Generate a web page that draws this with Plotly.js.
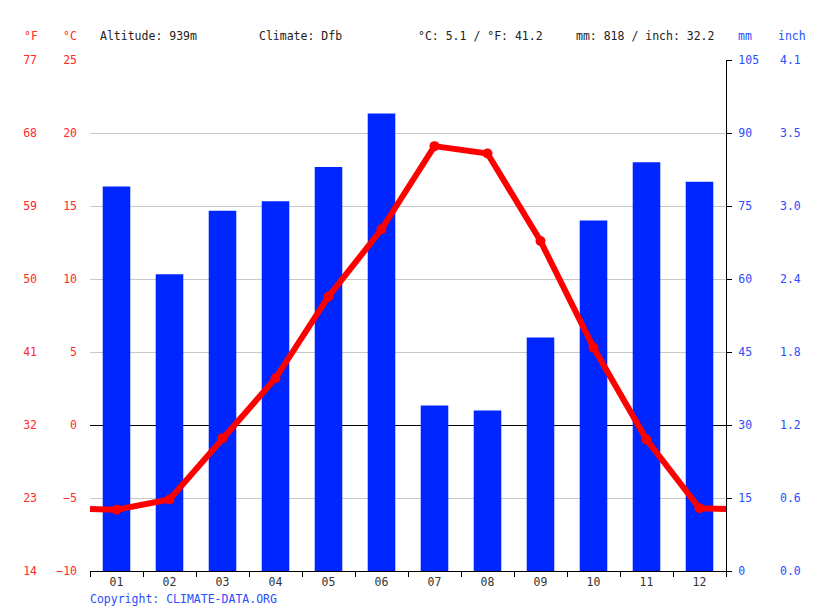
<!DOCTYPE html>
<html>
<head>
<meta charset="utf-8">
<script src="https://cdn.plot.ly/plotly-3.0.1.min.js"></script>
<style>
  html, body { margin: 0; padding: 0; background: #fff; }
  #chart { width: 815px; height: 611px; }
</style>
</head>
<body>
<div id="chart"></div>
<script>
// monthly climate values
var months = ['01', '02', '03', '04', '05', '06', '07', '08', '09', '10', '11', '12'];
var precipMm = [79, 61, 74, 76, 83, 94, 34, 33, 48, 72, 84, 80];
var tempC = [-5.8, -5.1, -0.9, 3.2, 8.8, 13.4, 19.1, 18.6, 12.6, 5.3, -1.0, -5.7];

var cTicks = [-10, -5, 0, 5, 10, 15, 20, 25];
var fTicks = [14, 23, 32, 41, 50, 59, 68, 77];
var mmTicks = [0, 15, 30, 45, 60, 75, 90, 105];

var W = 815;
var plotLeft = 90, plotRight = 726;
var font = 'DejaVu Sans Mono, monospace';
var red = '#ff2a2a';
var blue = '#2a4dff';

var xs = months.map(function(m, i) { return i + 1; });

// the temperature line runs on to both edges of the plot
var edgeTemp = (tempC[0] + tempC[11]) / 2;
var lineX = [0.5].concat(xs, [12.5]);
var lineY = [edgeTemp].concat(tempC, [edgeTemp]);

var inchText = mmTicks.map(function(v) { return (v / 25.4).toFixed(1); });

var plotlyData = [
    {
        x: xs,
        y: precipMm,
        type: 'bar',
        width: 0.52,
        marker: {color: '#0026ff'},
        yaxis: 'y',
        hoverinfo: 'skip'
    },
    {
        x: lineX,
        y: lineY,
        type: 'scatter',
        mode: 'lines',
        line: {color: '#ff0000', width: 6},
        yaxis: 'y2',
        hoverinfo: 'skip'
    },
    {
        x: xs,
        y: tempC,
        type: 'scatter',
        mode: 'markers',
        marker: {color: '#ff0000', size: 10},
        yaxis: 'y2',
        hoverinfo: 'skip'
    },
    // empty traces so the °F and inch axes get drawn
    {x: [], y: [], type: 'scatter', mode: 'markers', yaxis: 'y3', hoverinfo: 'skip'},
    {x: [], y: [], type: 'scatter', mode: 'markers', yaxis: 'y4', hoverinfo: 'skip'}
];

var plotlyLayout = {
    width: 815,
    height: 611,
    margin: {l: 0, r: 0, t: 60, b: 40},
    showlegend: false,
    paper_bgcolor: '#fff',
    plot_bgcolor: '#fff',
    font: {family: font, size: 11.5, color: '#222'},
    xaxis: {
        domain: [plotLeft / W, plotRight / W],
        range: [0.5, 12.5],
        tickvals: xs,
        ticktext: months,
        ticks: '',
        showgrid: false,
        zeroline: false,
        showline: true,
        linecolor: '#000',
        linewidth: 1,
        tickfont: {color: '#333', size: 11.5},
        minor: {tick0: 0.5, dtick: 1, ticks: 'outside', ticklen: 5, tickcolor: '#000', showgrid: false}
    },
    // mm (main axis, bars)
    yaxis: {
        range: [0, 105],
        tickvals: mmTicks,
        side: 'right',
        showgrid: false,
        zeroline: false,
        showline: true,
        linecolor: '#000',
        ticks: 'outside',
        ticklen: 5,
        tickcolor: '#000',
        tickfont: {color: blue},
        ticklabelstandoff: 4
    },
    // °C (line)
    yaxis2: {
        overlaying: 'y',
        side: 'left',
        range: [-10, 25],
        tickvals: cTicks,
        showgrid: true,
        gridcolor: '#c8c8c8',
        zeroline: true,
        zerolinecolor: '#000',
        zerolinewidth: 1,
        showline: false,
        ticks: '',
        tickfont: {color: red},
        ticklabelstandoff: 12
    },
    // °F
    yaxis3: {
        overlaying: 'y',
        anchor: 'free',
        position: 38 / W,
        side: 'left',
        range: [14, 77],
        tickvals: fTicks,
        showgrid: false,
        zeroline: false,
        showline: false,
        ticks: '',
        tickfont: {color: red},
        ticklabelstandoff: 1
    },
    // inch
    yaxis4: {
        overlaying: 'y',
        anchor: 'free',
        position: 778 / W,
        side: 'right',
        range: [0, 105],
        tickvals: mmTicks,
        ticktext: inchText,
        showgrid: false,
        zeroline: false,
        showline: false,
        ticks: '',
        tickfont: {color: blue},
        ticklabelstandoff: 1
    },
    annotations: [
        {text: '°F', x: 31, y: 36, font: {color: red}},
        {text: '°C', x: 70, y: 36, font: {color: red}},
        {text: 'mm', x: 745, y: 36, font: {color: blue}},
        {text: 'inch', x: 792, y: 36, font: {color: blue}},
        {text: 'Altitude: 939m', x: 98, y: 36, xanchor: 'left'},
        {text: 'Climate: Dfb', x: 257, y: 36, xanchor: 'left'},
        {text: '°C: 5.1 / °F: 41.2', x: 416, y: 36, xanchor: 'left'},
        {text: 'mm: 818 / inch: 32.2', x: 574, y: 36, xanchor: 'left'},
        {text: 'Copyright: CLIMATE-DATA.ORG', x: 88, y: 599, xanchor: 'left', font: {color: blue}}
    ].map(function(a) {
        return {
            text: a.text,
            x: a.x / W,
            y: 1 - a.y / 611,
            xref: 'paper',
            yref: 'paper',
            xanchor: a.xanchor || 'center',
            yanchor: 'middle',
            showarrow: false,
            font: Object.assign({family: font, size: 11.5, color: '#222'}, a.font || {})
        };
    })
};

// annotation coordinates above are page pixels; convert to paper fractions of the plot area
(function() {
    var m = plotlyLayout.margin;
    var ph = 611 - m.t - m.b;
    plotlyLayout.annotations.forEach(function(a) {
        var py = (1 - a.y) * 611;
        a.y = 1 - (py - m.t) / ph;
    });
})();

Plotly.newPlot('chart', plotlyData, plotlyLayout, {staticPlot: true, displayModeBar: false});
</script>
</body>
</html>
